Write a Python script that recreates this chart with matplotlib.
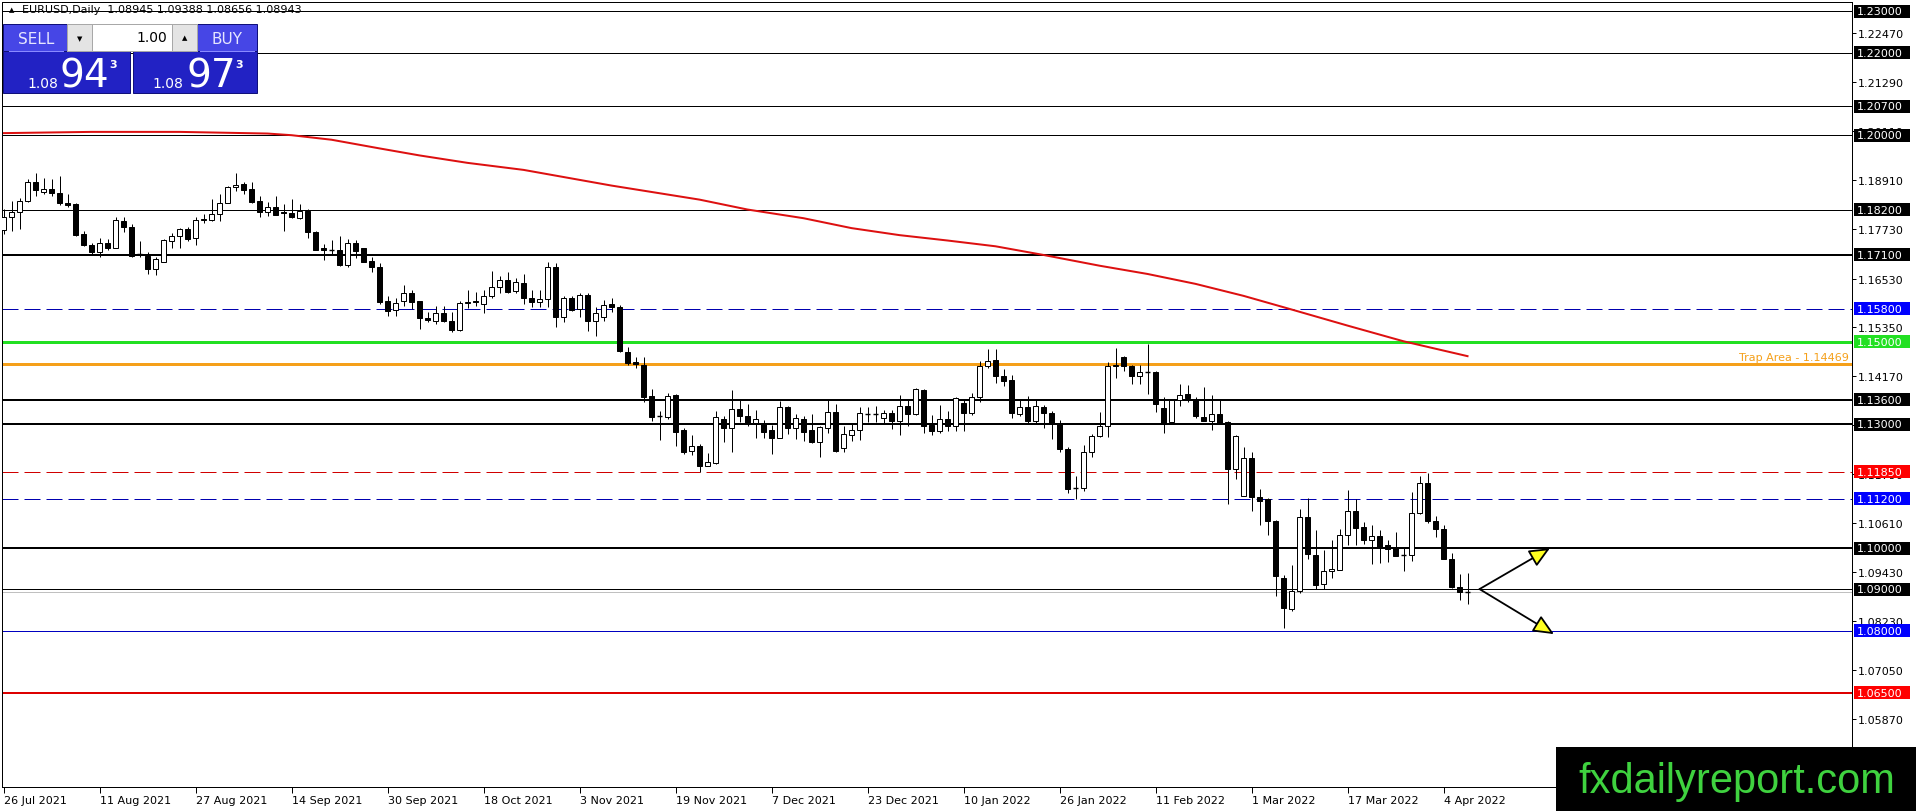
import matplotlib
matplotlib.use("Agg")
import matplotlib.pyplot as plt
from matplotlib.patches import Rectangle

# EURUSD daily, 26 Jul 2021 .. 7 Apr 2022 (one entry per bar)
opens = [1.1771, 1.1801, 1.1815, 1.1841, 1.1886, 1.1863, 1.1870, 1.1861, 1.1836, 1.1833,
         1.1760, 1.1735, 1.1718, 1.1738, 1.1728, 1.1793, 1.1777, 1.1712, 1.1708, 1.1676,
         1.1694, 1.1745, 1.1755, 1.1773, 1.1750, 1.1794, 1.1795, 1.1809, 1.1837, 1.1874,
         1.1882, 1.1870, 1.1840, 1.1815, 1.1825, 1.1814, 1.1811, 1.1799, 1.1817, 1.1765,
         1.1728, 1.1723, 1.1723, 1.1686, 1.1738, 1.1726, 1.1695, 1.1682, 1.1599, 1.1577,
         1.1598, 1.1619, 1.1598, 1.1557, 1.1551, 1.1569, 1.1551, 1.1529, 1.1594, 1.1598,
         1.1591, 1.1610, 1.1632, 1.1649, 1.1622, 1.1641, 1.1607, 1.1595, 1.1603, 1.1682,
         1.1561, 1.1606, 1.1579, 1.1613, 1.1551, 1.1559, 1.1592, 1.1583, 1.1476, 1.1450,
         1.1444, 1.1368, 1.1321, 1.1317, 1.1371, 1.1286, 1.1235, 1.1248, 1.1198, 1.1206,
         1.1313, 1.1290, 1.1337, 1.1319, 1.1303, 1.1301, 1.1286, 1.1268, 1.1341, 1.1292,
         1.1313, 1.1285, 1.1258, 1.1292, 1.1329, 1.1242, 1.1275, 1.1287, 1.1325, 1.1325,
         1.1315, 1.1327, 1.1309, 1.1345, 1.1325, 1.1383, 1.1298, 1.1284, 1.1313, 1.1297,
         1.1352, 1.1327, 1.1365, 1.1440, 1.1456, 1.1416, 1.1408, 1.1325, 1.1341, 1.1309,
         1.1343, 1.1327, 1.1301, 1.1240, 1.1146, 1.1146, 1.1234, 1.1272, 1.1297, 1.1440,
         1.1462, 1.1440, 1.1416, 1.1426, 1.1426, 1.1339, 1.1305, 1.1359, 1.1374, 1.1360,
         1.1317, 1.1309, 1.1325, 1.1305, 1.1192, 1.1126, 1.1219, 1.1124, 1.1118, 1.1067,
         1.0928, 1.0853, 1.0896, 1.1075, 1.0984, 1.0914, 1.0944, 1.0948, 1.1032, 1.1090,
         1.1051, 1.1019, 1.1029, 1.1008, 1.1002, 1.0985, 1.0984, 1.1085, 1.1157, 1.1065,
         1.1047, 1.0974, 1.0906, 1.08945]
highs = [1.1821, 1.1840, 1.1849, 1.1894, 1.1908, 1.1896, 1.1894, 1.1902, 1.1857, 1.1836,
         1.1769, 1.1740, 1.1752, 1.1748, 1.1803, 1.1801, 1.1785, 1.1744, 1.1716, 1.1704,
         1.1748, 1.1764, 1.1775, 1.1777, 1.1801, 1.1809, 1.1845, 1.1857, 1.1876, 1.1908,
         1.1886, 1.1887, 1.1852, 1.1839, 1.1852, 1.1833, 1.1845, 1.1833, 1.1821, 1.1769,
         1.1736, 1.1747, 1.1755, 1.1749, 1.1747, 1.1728, 1.1704, 1.1690, 1.1610, 1.1605,
         1.1638, 1.1624, 1.1599, 1.1571, 1.1586, 1.1586, 1.1573, 1.1599, 1.1625, 1.1621,
         1.1624, 1.1670, 1.1658, 1.1668, 1.1654, 1.1665, 1.1626, 1.1626, 1.1692, 1.1690,
         1.1610, 1.1611, 1.1618, 1.1618, 1.1583, 1.1600, 1.1605, 1.1590, 1.1486, 1.1462,
         1.1464, 1.1386, 1.1331, 1.1375, 1.1374, 1.1292, 1.1274, 1.1252, 1.1231, 1.1331,
         1.1319, 1.1383, 1.1361, 1.1349, 1.1335, 1.1311, 1.1298, 1.1357, 1.1345, 1.1325,
         1.1319, 1.1325, 1.1297, 1.1361, 1.1349, 1.1297, 1.1301, 1.1341, 1.1341, 1.1344,
         1.1335, 1.1335, 1.1370, 1.1360, 1.1389, 1.1385, 1.1323, 1.1347, 1.1331, 1.1365,
         1.1361, 1.1375, 1.1453, 1.1482, 1.1482, 1.1434, 1.1420, 1.1360, 1.1368, 1.1360,
         1.1347, 1.1331, 1.1311, 1.1245, 1.1174, 1.1249, 1.1277, 1.1329, 1.1452, 1.1484,
         1.1466, 1.1444, 1.1444, 1.1494, 1.1428, 1.1365, 1.1362, 1.1398, 1.1396, 1.1366,
         1.1390, 1.1370, 1.1360, 1.1309, 1.1274, 1.1246, 1.1232, 1.1144, 1.1121, 1.1069,
         1.0934, 1.0960, 1.1095, 1.1121, 1.1044, 1.0996, 1.1019, 1.1047, 1.1140, 1.1118,
         1.1063, 1.1055, 1.1043, 1.1019, 1.1039, 1.1002, 1.1137, 1.1174, 1.1182, 1.1079,
         1.1057, 1.0989, 1.0938, 1.09388]
lows = [1.1760, 1.1769, 1.1773, 1.1839, 1.1852, 1.1858, 1.1853, 1.1831, 1.1827, 1.1755,
        1.1732, 1.1712, 1.1706, 1.1722, 1.1727, 1.1766, 1.1706, 1.1706, 1.1664, 1.1662,
        1.1692, 1.1728, 1.1726, 1.1744, 1.1734, 1.1787, 1.1793, 1.1793, 1.1835, 1.1865,
        1.1857, 1.1837, 1.1801, 1.1805, 1.1807, 1.1769, 1.1799, 1.1797, 1.1751, 1.1722,
        1.1699, 1.1712, 1.1684, 1.1682, 1.1703, 1.1692, 1.1668, 1.1591, 1.1563, 1.1563,
        1.1586, 1.1579, 1.1531, 1.1547, 1.1543, 1.1548, 1.1524, 1.1527, 1.1581, 1.1586,
        1.1569, 1.1605, 1.1618, 1.1619, 1.1619, 1.1591, 1.1583, 1.1583, 1.1583, 1.1535,
        1.1547, 1.1575, 1.1561, 1.1527, 1.1513, 1.1551, 1.1572, 1.1474, 1.1444, 1.1436,
        1.1355, 1.1309, 1.1263, 1.1313, 1.1248, 1.1228, 1.1226, 1.1185, 1.1198, 1.1204,
        1.1258, 1.1234, 1.1305, 1.1295, 1.1266, 1.1266, 1.1227, 1.1266, 1.1277, 1.1264,
        1.1260, 1.1254, 1.1222, 1.1279, 1.1234, 1.1234, 1.1260, 1.1263, 1.1306, 1.1305,
        1.1303, 1.1288, 1.1273, 1.1297, 1.1323, 1.1279, 1.1273, 1.1279, 1.1284, 1.1284,
        1.1284, 1.1323, 1.1355, 1.1436, 1.1401, 1.1392, 1.1315, 1.1320, 1.1302, 1.1303,
        1.1290, 1.1264, 1.1234, 1.1134, 1.1118, 1.1138, 1.1221, 1.1269, 1.1269, 1.1411,
        1.1428, 1.1398, 1.1398, 1.1373, 1.1329, 1.1280, 1.1303, 1.1344, 1.1353, 1.1315,
        1.1307, 1.1287, 1.1301, 1.1106, 1.1168, 1.1126, 1.1089, 1.1057, 1.1032, 1.0885,
        1.0806, 1.0849, 1.0892, 1.0974, 1.0902, 1.0902, 1.0927, 1.0948, 1.1007, 1.1007,
        1.1009, 1.0961, 1.0964, 1.0966, 1.0981, 1.0944, 1.0970, 1.1083, 1.1061, 1.1028,
        1.0973, 1.0903, 1.0875, 1.08656]
closes = [1.1801, 1.1815, 1.1841, 1.1886, 1.1868, 1.1870, 1.1860, 1.1835, 1.1832, 1.1758,
          1.1735, 1.1718, 1.1738, 1.1727, 1.1794, 1.1777, 1.1708, 1.1711, 1.1676, 1.1700,
          1.1746, 1.1755, 1.1773, 1.1748, 1.1794, 1.1796, 1.1809, 1.1837, 1.1874, 1.1879,
          1.1868, 1.1839, 1.1815, 1.1825, 1.1807, 1.1811, 1.1801, 1.1817, 1.1765, 1.1723,
          1.1723, 1.1722, 1.1686, 1.1738, 1.1720, 1.1694, 1.1682, 1.1597, 1.1575, 1.1593,
          1.1619, 1.1597, 1.1557, 1.1552, 1.1569, 1.1551, 1.1529, 1.1593, 1.1596, 1.1595,
          1.1610, 1.1632, 1.1650, 1.1621, 1.1644, 1.1607, 1.1595, 1.1603, 1.1682, 1.1559,
          1.1605, 1.1577, 1.1613, 1.1551, 1.1570, 1.1588, 1.1583, 1.1477, 1.1448, 1.1446,
          1.1367, 1.1318, 1.1320, 1.1369, 1.1281, 1.1232, 1.1248, 1.1198, 1.1208, 1.1317,
          1.1290, 1.1337, 1.1319, 1.1301, 1.1313, 1.1282, 1.1267, 1.1341, 1.1292, 1.1315,
          1.1282, 1.1256, 1.1294, 1.1329, 1.1236, 1.1276, 1.1285, 1.1327, 1.1326, 1.1324,
          1.1327, 1.1307, 1.1345, 1.1324, 1.1385, 1.1297, 1.1284, 1.1313, 1.1297, 1.1363,
          1.1327, 1.1365, 1.1440, 1.1453, 1.1416, 1.1406, 1.1327, 1.1341, 1.1309, 1.1344,
          1.1327, 1.1303, 1.1239, 1.1144, 1.1146, 1.1234, 1.1272, 1.1297, 1.1440, 1.1444,
          1.1440, 1.1416, 1.1426, 1.1427, 1.1349, 1.1301, 1.1359, 1.1372, 1.1364, 1.1321,
          1.1309, 1.1325, 1.1303, 1.1192, 1.1271, 1.1218, 1.1124, 1.1115, 1.1065, 1.0932,
          1.0855, 1.0896, 1.1075, 1.0985, 1.0911, 1.0944, 1.0950, 1.1032, 1.1090, 1.1049,
          1.1019, 1.1029, 1.1002, 1.0998, 1.0982, 1.0984, 1.1085, 1.1157, 1.1065, 1.1047,
          1.0974, 1.0906, 1.0894, 1.08943]

# moving average (red) read at some bars
ma_bars = [0, 11, 22, 33, 36, 41, 47, 52, 58, 65, 76, 87, 93, 100, 106, 112, 118,
           124, 130, 137, 143, 149, 155, 161, 168, 175, 183]
ma_vals = [1.2005, 1.2008, 1.2008, 1.2004, 1.2000, 1.1989, 1.1968, 1.1951, 1.1933,
           1.1916, 1.1878, 1.1844, 1.1820, 1.1799, 1.1775, 1.1758, 1.1745, 1.1731,
           1.1710, 1.1684, 1.1664, 1.1640, 1.1611, 1.1578, 1.1539, 1.1501, 1.1465]

date_pos = [0, 12, 24, 36, 48, 60, 72, 84, 96, 108, 120, 132, 144, 156, 168, 180]
date_labels = ["26 Jul 2021", "11 Aug 2021", "27 Aug 2021", "14 Sep 2021", "30 Sep 2021",
               "18 Oct 2021", "3 Nov 2021", "19 Nov 2021", "7 Dec 2021", "23 Dec 2021",
               "10 Jan 2022", "26 Jan 2022", "11 Feb 2022", "1 Mar 2022", "17 Mar 2022",
               "4 Apr 2022"]

price_ticks = [1.22470, 1.21290, 1.20110, 1.18910, 1.17730, 1.16530, 1.15350, 1.14170,
               1.12990, 1.11790, 1.10610, 1.09430, 1.08230, 1.07050, 1.05870]

# horizontal levels: (price, colour, width px, dashed)
levels = [(1.23, "black", 1, False), (1.22, "black", 1, False), (1.207, "black", 1, False),
          (1.20, "black", 1, False), (1.182, "black", 1, False), (1.171, "black", 2, False),
          (1.158, "#0000b0", 1, True), (1.15, "#22e022", 3, False),
          (1.14469, "#f5a01a", 3, False), (1.136, "black", 2, False),
          (1.13, "black", 2, False), (1.1185, "#d00000", 1, True),
          (1.112, "#0000b0", 1, True), (1.10, "black", 2, False), (1.09, "black", 1, False),
          (1.08, "#0000c0", 1, False), (1.065, "#dd0000", 2, False)]
box_colors = {1.158: "#0000ff", 1.15: "#22e022", 1.1185: "#ff0000", 1.112: "#0000ff",
              1.08: "#0000ff", 1.065: "#ff0000"}
bid = 1.08943
trap_price = 1.14469

PX = 0.72  # one screen pixel in points at dpi 100
fig = plt.figure(figsize=(19.16, 8.12), dpi=100)
ax = fig.add_axes([2 / 1916, 24 / 812, 1850 / 1916, 785.5 / 812])
ax.set_xlim(-0.19, 231.06)
ax.set_ylim(1.04218, 1.23237)
for s in ax.spines.values():
    s.set_linewidth(PX)

for lvl, col, w, dashed in levels:
    ls = (0, (16, 6)) if dashed else "-"
    ax.axhline(lvl, color=col, lw=w * PX, ls=ls, zorder=1)
ax.axhline(bid, color="#c0c0c0", lw=PX, zorder=1)

# candles
for i in range(len(opens)):
    o, h, l, c = opens[i], highs[i], lows[i], closes[i]
    ax.vlines(i, l, h, color="black", lw=PX, zorder=3)
    bottom, top = min(o, c), max(o, c)
    if top - bottom < 0.00012:
        ax.hlines((o + c) / 2, i - 0.3, i + 0.3, color="black", lw=1.4 * PX, zorder=4)
    else:
        fc = "white" if c > o else "black"
        ax.add_patch(Rectangle((i - 0.28, bottom), 0.56, top - bottom, fc=fc,
                               ec="black", lw=PX, zorder=4))

ax.plot(ma_bars, ma_vals, color="#dd1010", lw=2 * PX, zorder=2)

# arrows
start = (184.5, 1.0901)
ax.annotate("", xy=(193.3, 1.1000), xytext=start,
            arrowprops=dict(arrowstyle="-|>,head_length=0.9,head_width=0.4", fc="#ffff20",
                            ec="black", lw=1.3, mutation_scale=14, shrinkA=0, shrinkB=0))
ax.annotate("", xy=(193.8, 1.0792), xytext=start,
            arrowprops=dict(arrowstyle="-|>,head_length=0.9,head_width=0.4", fc="#ffff20",
                            ec="black", lw=1.3, mutation_scale=14, shrinkA=0, shrinkB=0))

ax.text(0.99838, trap_price + 0.0015, "Trap Area - %.5f" % trap_price,
        transform=ax.get_yaxis_transform(), ha="right", va="center", fontsize=8,
        color="#f5a01a")

# axes ticks
ax.yaxis.tick_right()
ax.set_yticks(price_ticks)
ax.set_yticklabels(["%.5f" % p for p in price_ticks])
ax.tick_params(axis="y", length=3, width=PX, pad=1.5, labelsize=8)
ax.set_xticks(date_pos)
ax.set_xticklabels(date_labels)
for lbl in ax.get_xticklabels():
    lbl.set_ha("left")
ax.tick_params(axis="x", length=4, width=PX, pad=1.5, labelsize=8)

# boxed price labels on the axis
yt = ax.get_yaxis_transform()
for lvl, col, w, dashed in levels:
    if lvl == trap_price:
        continue
    fc = box_colors.get(lvl, "black")
    ax.add_patch(Rectangle((1.00108, lvl - 0.00158), 0.0303, 0.00316, transform=yt,
                           fc=fc, ec="none", clip_on=False, zorder=20))
    ax.text(1.0027, lvl, "%.5f" % lvl, transform=yt, ha="left", va="center",
            fontsize=8, color="white", clip_on=False, zorder=21)

# overlay in pixel units for the trading panel, header and watermark
ov = fig.add_axes([0, 0, 1, 1])
ov.set_xlim(0, 1916)
ov.set_ylim(812, 0)
ov.axis("off")

ov.text(12, 10, "\u25b2", fontsize=5, ha="center", va="center")
ov.text(22, 10, "EURUSD,Daily  1.08945 1.09388 1.08656 1.08943", fontsize=8,
        ha="left", va="center")

ov.add_patch(Rectangle((3, 52), 127, 42, fc="#2222c4", ec="#10107a", lw=PX))
ov.add_patch(Rectangle((133, 52), 124, 42, fc="#2222c4", ec="#10107a", lw=PX))
ov.add_patch(Rectangle((3, 25), 64, 27, fc="#4646e6", ec="#10107a", lw=PX))
ov.add_patch(Rectangle((197, 25), 60, 27, fc="#4646e6", ec="#10107a", lw=PX))
ov.plot([9, 63], [52, 52], color="#8a8aff", lw=PX)
ov.plot([200, 254], [52, 52], color="#8a8aff", lw=PX)
ov.add_patch(Rectangle((67, 25), 130, 27, fc="white", ec="#a8a8a8", lw=PX))
ov.add_patch(Rectangle((67, 25), 25, 27, fc="#e4e4e4", ec="#a8a8a8", lw=PX))
ov.add_patch(Rectangle((172, 25), 25, 27, fc="#e4e4e4", ec="#a8a8a8", lw=PX))
ov.text(79.5, 39, "\u25bc", fontsize=5, ha="center", va="center")
ov.text(184.5, 38, "\u25b2", fontsize=5, ha="center", va="center")
ov.text(167, 38, "1.00", fontsize=10, ha="right", va="center")
ov.text(36, 39, "SELL", fontsize=11, ha="center", va="center", color="#e6e6ff")
ov.text(227, 39, "BUY", fontsize=11, ha="center", va="center", color="#e6e6ff")
ov.text(27, 88, "1.08", fontsize=10, ha="left", va="baseline", color="white")
ov.text(60, 88, "94", fontsize=28, ha="left", va="baseline", color="white")
ov.text(109, 68, "3", fontsize=8, ha="left", va="baseline", color="white", weight="bold")
ov.text(152, 88, "1.08", fontsize=10, ha="left", va="baseline", color="white")
ov.text(187, 88, "97", fontsize=28, ha="left", va="baseline", color="white")
ov.text(235, 68, "3", fontsize=8, ha="left", va="baseline", color="white", weight="bold")

ov.add_patch(Rectangle((1556, 748), 360, 64, fc="black", ec="none"))
ov.text(1737, 782, "fxdailyreport.com", fontsize=30, family="Liberation Sans",
        color="#3fd23f", ha="center", va="center")

fig.savefig("out.png", dpi=100)
